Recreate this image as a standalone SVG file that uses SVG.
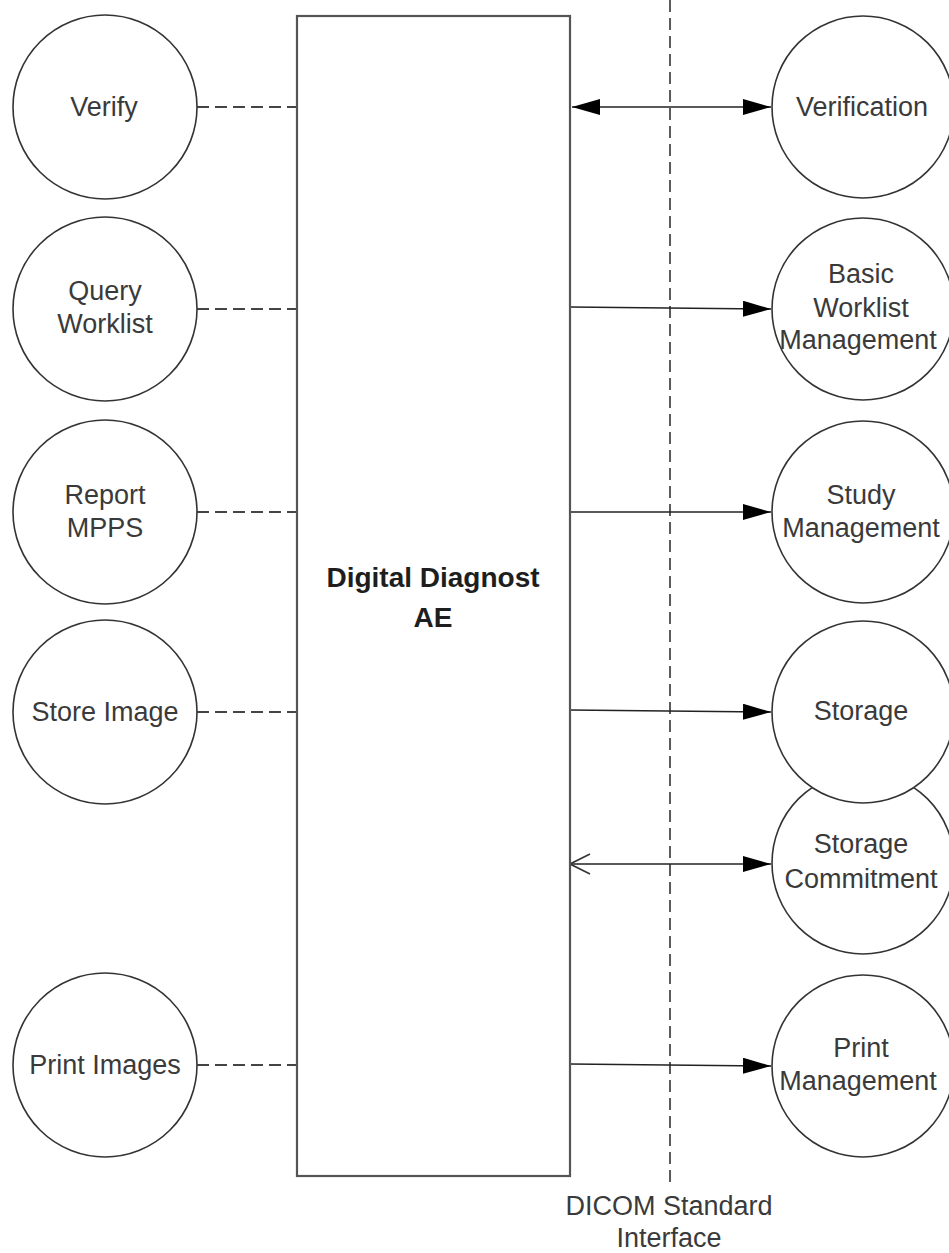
<svg xmlns="http://www.w3.org/2000/svg" width="949" height="1253" viewBox="0 0 949 1253">
<defs>
<style>
.node{fill:#fff;stroke:#333;stroke-width:1.6}
.box{fill:#fff;stroke:#555;stroke-width:2.2}
.t{font-family:"Liberation Sans",Arial,sans-serif;font-size:27px;fill:#3a3a3a;text-anchor:middle}
.b{font-family:"Liberation Sans",Arial,sans-serif;font-size:28px;font-weight:bold;fill:#1e1e1e;text-anchor:middle}
.dash{stroke:#444;stroke-width:2;stroke-dasharray:12 6;fill:none}
.vdash{stroke:#333;stroke-width:1.6;stroke-dasharray:12 6;fill:none}
.arr{stroke:#222;stroke-width:1.6;fill:none}
</style>
<marker id="fh" markerWidth="28" markerHeight="16" refX="28" refY="8" orient="auto" markerUnits="userSpaceOnUse">
<path d="M0,0 L28,8 L0,16 Z" fill="#000"/>
</marker>
<marker id="fhs" markerWidth="28" markerHeight="16" refX="28" refY="8" orient="auto-start-reverse" markerUnits="userSpaceOnUse">
<path d="M0,0 L28,8 L0,16 Z" fill="#000"/>
</marker>
<marker id="oh" markerWidth="22" markerHeight="22" refX="21" refY="11" orient="auto-start-reverse" markerUnits="userSpaceOnUse">
<path d="M1,1 L21,11 L1,21" fill="none" stroke="#333" stroke-width="1.6"/>
</marker>
</defs>
<rect width="949" height="1253" fill="#fff"/>

<g id="connectors">
<line class="vdash" x1="670" y1="0" x2="670" y2="1186"/>
<line class="dash" x1="197" y1="107" x2="297" y2="107"/>
<line class="dash" x1="197" y1="309" x2="297" y2="309"/>
<line class="dash" x1="197" y1="512" x2="297" y2="512"/>
<line class="dash" x1="197" y1="712" x2="297" y2="712"/>
<line class="dash" x1="197" y1="1065" x2="297" y2="1065"/>
<line class="arr" x1="572" y1="107" x2="771" y2="107" marker-start="url(#fhs)" marker-end="url(#fh)"/>
<line class="arr" x1="570" y1="307" x2="771" y2="309" marker-end="url(#fh)"/>
<line class="arr" x1="570" y1="512" x2="771" y2="512" marker-end="url(#fh)"/>
<line class="arr" x1="570" y1="710" x2="771" y2="712" marker-end="url(#fh)"/>
<line class="arr" x1="570" y1="864" x2="771" y2="864" marker-start="url(#oh)" marker-end="url(#fh)"/>
<line class="arr" x1="570" y1="1064" x2="771" y2="1066" marker-end="url(#fh)"/>
</g>

<g id="ae">
<rect class="box" x="297" y="16" width="273" height="1160"/>
<text class="b" x="433" y="587">Digital Diagnost</text>
<text class="b" x="433" y="627">AE</text>
</g>

<g id="verify"><circle class="node" cx="105" cy="107" r="92"/><text class="t" x="104" y="116">Verify</text></g>
<g id="query-worklist"><circle class="node" cx="105" cy="309" r="92"/><text class="t" x="105" y="300">Query</text><text class="t" x="105" y="333">Worklist</text></g>
<g id="report-mpps"><circle class="node" cx="105" cy="512" r="92"/><text class="t" x="105" y="504">Report</text><text class="t" x="105" y="537">MPPS</text></g>
<g id="store-image"><circle class="node" cx="105" cy="712" r="92"/><text class="t" x="105" y="721">Store Image</text></g>
<g id="print-images"><circle class="node" cx="105" cy="1065" r="92"/><text class="t" x="105" y="1074">Print Images</text></g>

<g id="verification"><circle class="node" cx="863" cy="107" r="91"/><text class="t" x="862" y="116">Verification</text></g>
<g id="basic-worklist"><circle class="node" cx="863" cy="309" r="91"/><text class="t" x="861" y="283">Basic</text><text class="t" x="861" y="317">Worklist</text><text class="t" x="858" y="349">Management</text></g>
<g id="study-management"><circle class="node" cx="863" cy="512" r="91"/><text class="t" x="861" y="504">Study</text><text class="t" x="861" y="537">Management</text></g>
<g id="storage-commitment"><circle class="node" cx="863" cy="863" r="91"/><text class="t" x="861" y="853">Storage</text><text class="t" x="861" y="888">Commitment</text></g>
<g id="storage"><circle class="node" cx="863" cy="712" r="91"/><text class="t" x="861" y="720">Storage</text></g>
<g id="print-management"><circle class="node" cx="863" cy="1066" r="91"/><text class="t" x="861" y="1057">Print</text><text class="t" x="858" y="1090">Management</text></g>

<g id="interface-label">
<text class="t" x="669" y="1215">DICOM Standard</text>
<text class="t" x="669" y="1247">Interface</text>
</g>
</svg>
